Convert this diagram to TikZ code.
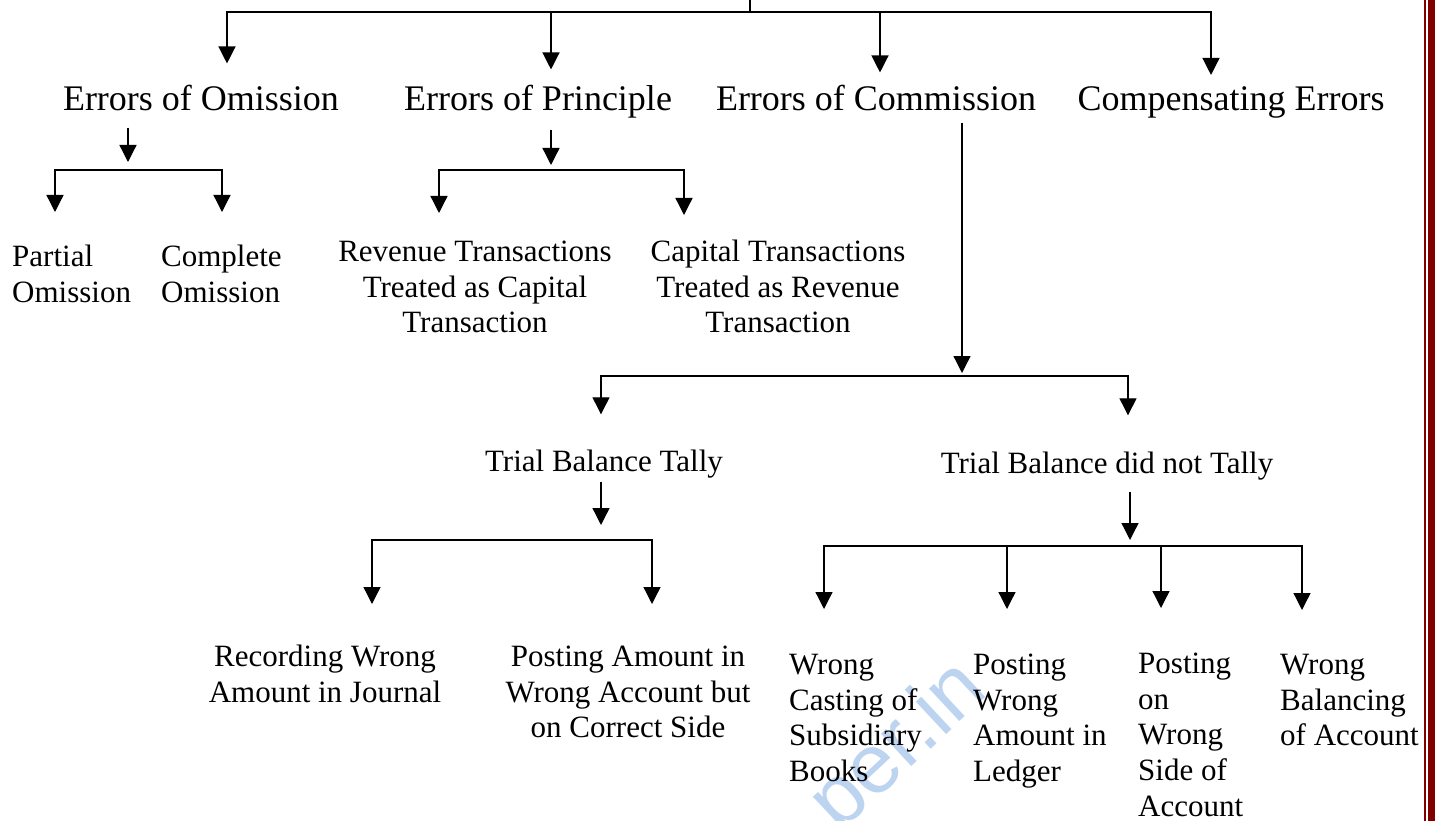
\documentclass[tikz,border=0pt]{standalone}
\usepackage{fontspec}
\setmainfont{Liberation Serif}
\newfontfamily\wmfont{Liberation Sans}
\usetikzlibrary{arrows.meta}
\definecolor{maroonb}{RGB}{128,0,0}
\definecolor{wmblue}{RGB}{188,212,240}
\begin{document}
\begin{tikzpicture}[x=1pt,y=-1pt,
  big/.style={font=\fontsize{36}{43}\selectfont, inner sep=0pt, anchor=base},
  small/.style={font=\fontsize{31}{35.8}\selectfont, inner sep=0pt},
  ln/.style={line width=1.3pt, line cap=rect},
  arr/.style={line width=1.3pt, -{Triangle[length=17pt,width=17pt]}}]
\useasboundingbox (0,0) rectangle (1435,821);
\fill[white] (0,0) rectangle (1435,821);
% watermark
\node[text=wmblue, font=\wmfont\fontsize{84}{90}\selectfont, rotate=43, inner sep=0pt] (wm) at (900,748) {per.in};
% right border
\fill[maroonb] (1424,0) rectangle (1426,821);
\fill[maroonb] (1428,0) rectangle (1435,821);
% level 1 nodes
\node[big] (om) at (201,111) {Errors of Omission};
\node[big] (pr) at (538,111) {Errors of Principle};
\node[big] (co) at (876,111) {Errors of Commission};
\node[big] (ce) at (1231,111) {Compensating Errors};
% omission children
\node[small, anchor=north west, align=left] (po) at (12,241) {\strut Partial\\Omission};
\node[small, anchor=north west, align=left] (cm) at (161,241) {\strut Complete\\Omission};
% principle children
\node[small, anchor=north, align=center] (rt) at (475,236) {\strut Revenue Transactions\\Treated as Capital\\Transaction};
\node[small, anchor=north, align=center] (ct) at (778,236) {\strut Capital Transactions\\Treated as Revenue\\Transaction};
% commission children
\node[small, anchor=base] (tbt) at (604,471) {Trial Balance Tally};
\node[small, anchor=base] (tbn) at (1107,473) {Trial Balance did not Tally};
\node[small, anchor=north, align=center] (rw) at (325,641) {\strut Recording Wrong\\Amount in Journal};
\node[small, anchor=north, align=center] (pa) at (628,641) {\strut Posting Amount in\\Wrong Account but\\on Correct Side};
\node[small, anchor=north west, align=left] (wc) at (789,649) {\strut Wrong\\Casting of\\Subsidiary\\Books};
\node[small, anchor=north west, align=left] (pw) at (973,649) {\strut Posting\\Wrong\\Amount in\\Ledger};
\node[small, anchor=north west, align=left] (ps) at (1138,648) {\strut Posting\\on\\Wrong\\Side of\\Account};
\node[small, anchor=north west, align=left] (wb) at (1280,649) {\strut Wrong\\Balancing\\of Account};
% top level connectors
\coordinate (top) at (750,0);
\coordinate (topj) at (750,12);
\coordinate (tL) at (227,12);
\coordinate (tR) at (1211,12);
\coordinate (t2) at (551,12);
\coordinate (t3) at (880,12);
\draw[line width=2.5pt] (top) -- (topj);
\draw[ln] (tL) -- (tR);
\draw[arr, shorten >=22pt] (tL) -- (tL |- om.north);
\draw[arr, shorten >=16pt] (t2) -- (t2 |- pr.north);
\draw[arr, shorten >=13pt] (t3) -- (t3 |- co.north);
\draw[arr, shorten >=12pt] (tR) -- (tR |- ce.north);
% omission
\coordinate (oj) at (128,170);
\coordinate (oL) at (55,170);
\coordinate (oR) at (222,170);
\draw[arr, shorten <=16pt, shorten >=8pt] (om.south -| oj) -- (oj);
\draw[ln] (oL) -- (oR);
\draw[arr, shorten >=29pt] (oL) -- (oL |- po.north);
\draw[arr, shorten >=29pt] (oR) -- (oR |- cm.north);
% principle
\coordinate (pj) at (551,170);
\coordinate (pL) at (439,170);
\coordinate (pR) at (684,170);
\draw[arr, shorten <=11pt, shorten >=5pt] (pr.south -| pj) -- (pj);
\draw[ln] (pL) -- (pR);
\draw[arr, shorten >=23pt] (pL) -- (pL |- rt.north);
\draw[arr, shorten >=21pt] (pR) -- (pR |- ct.north);
% commission
\coordinate (cj) at (962,376);
\coordinate (cL) at (601,376);
\coordinate (cR) at (1128,376);
\draw[arr, shorten <=11pt, shorten >=3pt] (co.south -| cj) -- (cj);
\draw[ln] (cL) -- (cR);
\draw[arr, shorten >=35pt] (cL) -- (cL |- tbt.north);
\draw[arr, shorten >=36pt] (cR) -- (cR |- tbn.north);
% trial balance tally
\coordinate (aj) at (601,540);
\coordinate (aL) at (372,540);
\coordinate (aR) at (652,540);
\draw[arr, shorten <=4pt, shorten >=15pt] (tbt.south -| aj) -- (aj);
\draw[ln] (aL) -- (aR);
\draw[arr, shorten >=37pt] (aL) -- (aL |- rw.north);
\draw[arr, shorten >=37pt] (aR) -- (aR |- pa.north);
% trial balance did not tally
\coordinate (bj) at (1130,546);
\coordinate (bL) at (824,546);
\coordinate (bR) at (1302,546);
\coordinate (b2) at (1007,546);
\coordinate (b3) at (1161,546);
\draw[arr, shorten <=12pt, shorten >=6pt] (tbn.south -| bj) -- (bj);
\draw[ln] (bL) -- (bR);
\draw[arr, shorten >=40pt] (bL) -- (bL |- wc.north);
\draw[arr, shorten >=40pt] (b2) -- (b2 |- pw.north);
\draw[arr, shorten >=40pt] (b3) -- (b3 |- ps.north);
\draw[arr, shorten >=39pt] (bR) -- (bR |- wb.north);
\end{tikzpicture}
\end{document}
